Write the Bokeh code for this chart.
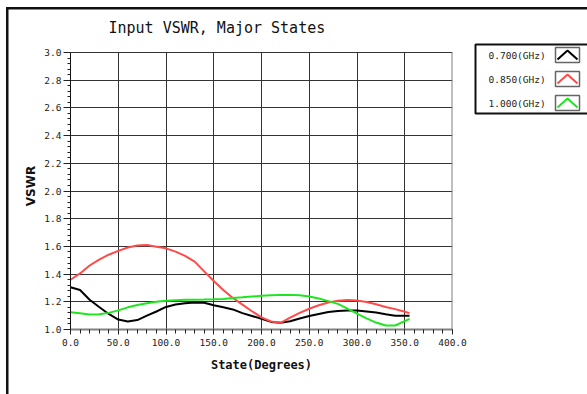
from bokeh.plotting import figure
from bokeh.layouts import row, column
from bokeh.models import FixedTicker, PrintfTickFormatter, Range1d, Div
from bokeh.core.properties import value
from bokeh.embed import file_html
from bokeh.resources import INLINE

# ---------------- data ----------------
states = [0, 10, 20, 30, 40, 50, 60, 70, 80, 90, 100, 110, 120, 130, 140, 150, 160, 170,
          180, 190, 200, 210, 220, 230, 240, 250, 260, 270, 280, 290, 300, 310, 320, 330,
          340, 350, 355]
vswr_0700 = [1.305, 1.285, 1.215, 1.162, 1.112, 1.072, 1.058, 1.068, 1.100, 1.130, 1.163,
             1.180, 1.190, 1.195, 1.193, 1.175, 1.160, 1.145, 1.118, 1.098, 1.078, 1.055,
             1.048, 1.060, 1.080, 1.097, 1.112, 1.126, 1.133, 1.137, 1.137, 1.130, 1.123,
             1.110, 1.100, 1.100, 1.100]
vswr_0850 = [1.359, 1.405, 1.462, 1.505, 1.540, 1.568, 1.592, 1.606, 1.610, 1.598, 1.586,
             1.562, 1.532, 1.490, 1.420, 1.350, 1.285, 1.228, 1.180, 1.132, 1.088, 1.058,
             1.048, 1.085, 1.120, 1.150, 1.175, 1.195, 1.207, 1.213, 1.210, 1.198, 1.182,
             1.163, 1.147, 1.128, 1.118]
vswr_1000 = [1.125, 1.118, 1.109, 1.110, 1.120, 1.138, 1.160, 1.177, 1.190, 1.200, 1.208,
             1.212, 1.214, 1.215, 1.216, 1.218, 1.221, 1.227, 1.232, 1.238, 1.243, 1.247,
             1.250, 1.250, 1.247, 1.238, 1.224, 1.205, 1.185, 1.150, 1.115, 1.080, 1.050,
             1.029, 1.029, 1.060, 1.077]
x_ticks = [0, 50, 100, 150, 200, 250, 300, 350, 400]
x_minor = [0, 10, 20, 30, 40, 50, 60, 70, 80, 90, 100, 110, 120, 130, 140, 150, 160, 170, 180,
           190, 200, 210, 220, 230, 240, 250, 260, 270, 280, 290, 300, 310, 320, 330, 340,
           350, 360, 370, 380, 390, 400]
y_ticks = [1.0, 1.2, 1.4, 1.6, 1.8, 2.0, 2.2, 2.4, 2.6, 2.8, 3.0]
y_minor = [round(1.0 + 0.04 * i, 2) for i in range(51)]
x_lo, x_hi = 0, 400
y_lo, y_hi = 1.0, 3.0
series_labels = ["0.700(GHz)", "0.850(GHz)", "1.000(GHz)"]
series_colors = ["#000000", "#ff4a4a", "#1ee61e"]
title_text = "Input VSWR, Major States"
x_title = "State(Degrees)"
y_title = "VSWR"

# ---------------- layout (global canvas pixels) ----------------
W, H = 587, 394
STRIP = 10            # height of top strip / width of left strip
LEG_X = 470           # where the legend panel starts
FL, FR, FB = 70, 452, 329     # plot frame left/right/bottom
Y3 = 52               # pixel row of y = 3.0
FT = 42               # frame top (slightly above 3.0 so the legend fits)
WIN = "#111111"

# window frame edges (pure decoration)
top = Div(text="", width=W, height=STRIP, margin=0, styles={
    "background-image": f"linear-gradient({WIN},{WIN}), linear-gradient({WIN},{WIN})",
    "background-position": "6px 7px, 6px 7px",
    "background-size": "100% 2.5px, 2.5px 100%",
    "background-repeat": "no-repeat, no-repeat",
    "background-color": "white", "padding": "0px"})
left = Div(text="", width=STRIP, height=H - STRIP, margin=0, styles={
    "background-image": f"linear-gradient({WIN},{WIN})",
    "background-position": "6px 0px",
    "background-size": "2.5px 100%",
    "background-repeat": "no-repeat",
    "background-color": "white", "padding": "0px"})

# main plot
PW, PH = LEG_X - STRIP, H - STRIP
px_per_unit = (FB - Y3) / (y_hi - y_lo)
y_top = y_hi + (Y3 - FT) / px_per_unit
p = figure(width=PW, height=PH, x_range=Range1d(x_lo, x_hi), y_range=Range1d(y_lo, y_top),
           output_backend="svg", toolbar_location=None, margin=0,
           min_border_left=FL - STRIP, min_border_right=LEG_X - FR,
           min_border_top=FT - STRIP, min_border_bottom=H - FB)
p.background_fill_color = "white"
p.border_fill_color = "white"
p.outline_line_color = None

p.title.text = title_text
p.title.align = "left"
p.title.offset = 108 - FL
p.title.standoff = 12
p.title.text_font = "DejaVu Sans Mono"
p.title.text_font_size = "15px"
p.title.text_font_style = "normal"
p.title.text_color = "#111111"

p.xaxis.ticker = FixedTicker(ticks=x_ticks, minor_ticks=x_minor)
p.yaxis.ticker = FixedTicker(ticks=y_ticks, minor_ticks=y_minor)
p.xaxis.formatter = PrintfTickFormatter(format="%.1f")
p.yaxis.formatter = PrintfTickFormatter(format="%.1f")
p.yaxis.bounds = (y_lo, y_hi)
for ax in (p.xaxis[0], p.yaxis[0]):
    ax.major_tick_in = 0
    ax.minor_tick_in = 0
    ax.major_tick_line_color = "#222222"
    ax.minor_tick_line_color = "#222222"
    ax.major_label_text_font = "DejaVu Sans Mono"
    ax.major_label_text_font_size = "9.5px"
    ax.major_label_text_color = "#222222"
    ax.axis_label_text_font_style = "bold"
    ax.axis_label_text_color = "#111111"
p.xaxis.major_tick_out = 5
p.xaxis.minor_tick_out = 4
p.xaxis.axis_line_color = "#808080"
p.xaxis.axis_line_width = 2
p.xaxis.major_label_standoff = 4
p.xaxis.axis_label = x_title
p.xaxis.axis_label_text_font = "DejaVu Sans Mono"
p.xaxis.axis_label_text_font_size = "12px"
p.xaxis.axis_label_standoff = 9
p.yaxis.major_tick_out = 7
p.yaxis.minor_tick_out = 3
p.yaxis.axis_line_color = "#111111"
p.yaxis.major_label_standoff = 2
p.yaxis.axis_label = y_title
p.yaxis.axis_label_text_font = "DejaVu Sans"
p.yaxis.axis_label_text_font_size = "12px"
p.yaxis.axis_label_standoff = 3

p.xgrid.ticker = FixedTicker(ticks=x_ticks)
p.ygrid.ticker = FixedTicker(ticks=y_ticks)
p.xgrid.cross_bounds = (y_lo, y_hi)
for g in (p.xgrid[0], p.ygrid[0]):
    g.grid_line_color = "#333333"
    g.grid_line_width = 1

# right edge of the plot box (grey, like the bottom)
p.segment(x0=[x_hi], y0=[y_lo], x1=[x_hi], y1=[y_hi], line_color="#808080", line_width=2)

for ys, col in zip([vswr_0700, vswr_0850, vswr_1000], series_colors):
    p.line(states, ys, line_color=col, line_width=2)

# legend panel (its frame is aligned with the plot frame; coordinates = page pixels)
leg = figure(width=W - LEG_X, height=H - STRIP, x_range=Range1d(LEG_X, W),
             y_range=Range1d(FB, FT), output_backend="svg", toolbar_location=None,
             min_border=0, margin=0)
leg.axis.visible = False
leg.grid.visible = False
leg.outline_line_color = None
leg.background_fill_color = "white"
leg.border_fill_color = "white"
leg.quad(left=[475], right=[W + 20], top=[44], bottom=[113], fill_color=None,
         line_color=WIN, line_width=2)
row_y = [55, 79, 103]
leg.text(x=[488] * 3, y=row_y, text=series_labels, text_font=value("DejaVu Sans Mono"),
         text_font_size="9.5px", text_baseline="middle", text_color="#222222")
leg.quad(left=[555] * 3, right=[579] * 3, top=[r - 8 for r in row_y],
         bottom=[r + 7 for r in row_y], fill_color=None, line_color="#666666", line_width=1.5)
for col, ry in zip(series_colors, row_y):
    leg.line([557, 567, 577], [ry + 4, ry - 5, ry + 4], line_color=col, line_width=2)

layout = column(top, row(left, p, leg, spacing=0, margin=0), spacing=0, margin=0)
open("out.html", "w").write(file_html(layout, INLINE))
